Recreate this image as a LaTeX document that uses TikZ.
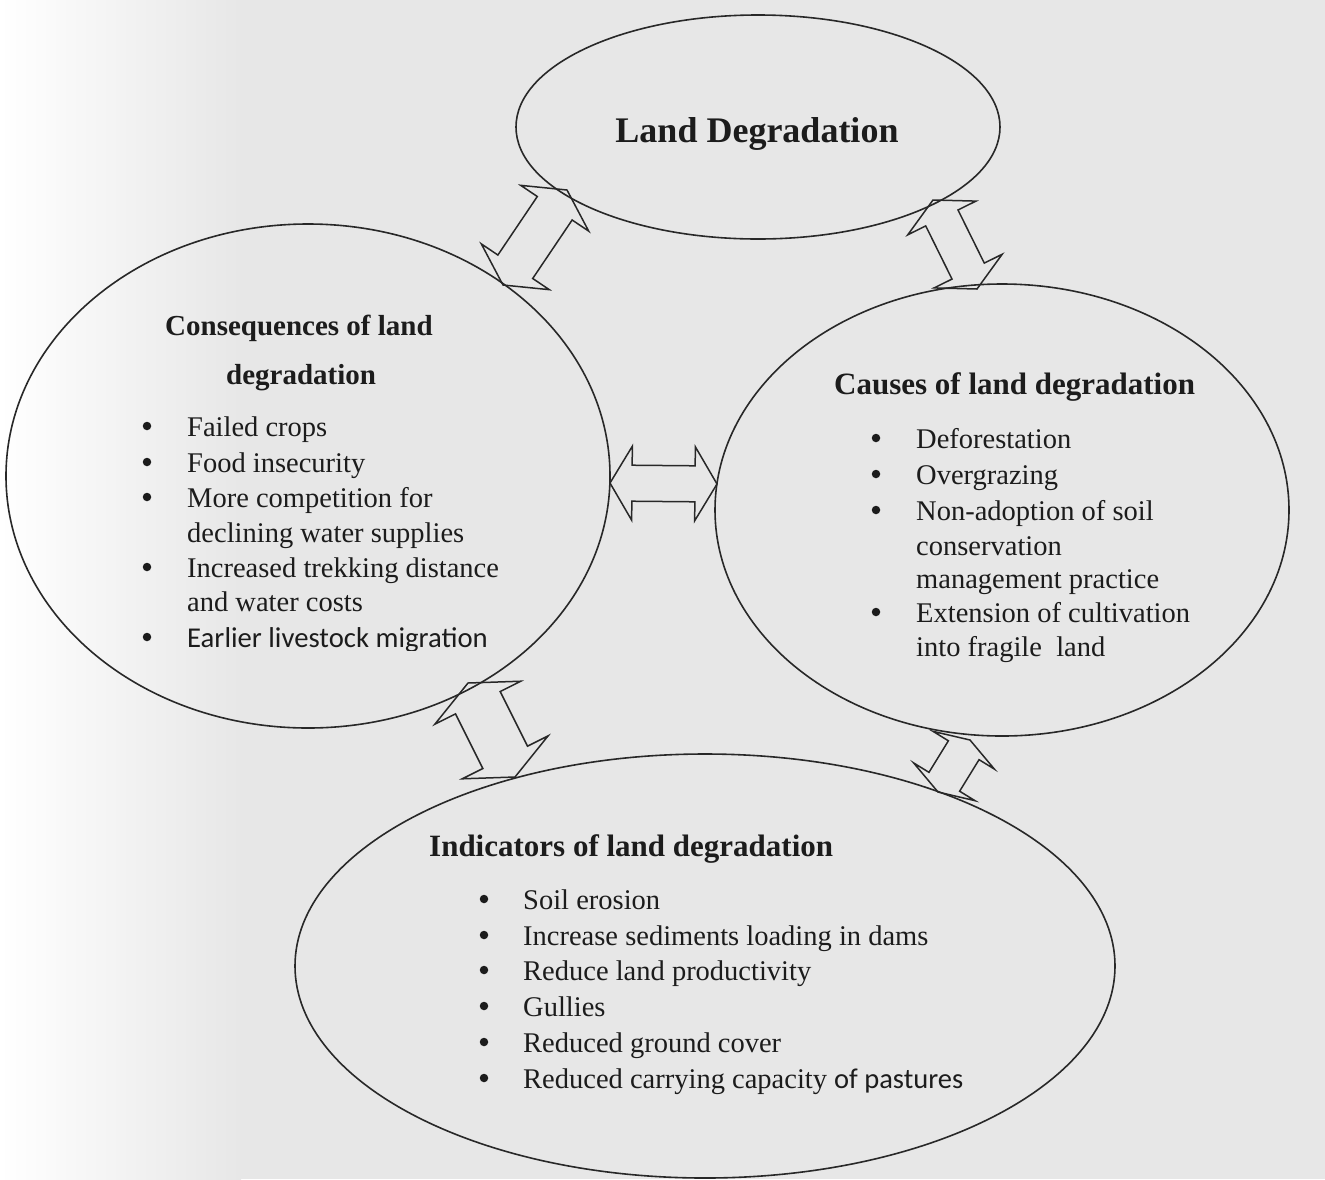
\documentclass[tikz,border=0pt]{standalone}
\usepackage{fontspec}
\setmainfont{Liberation Serif}
\newfontfamily\carlito{Carlito}
\usetikzlibrary{shapes.geometric,calc}
\definecolor{bggray}{RGB}{231,231,231}
\definecolor{ink}{RGB}{28,28,28}
\definecolor{edge}{RGB}{40,40,40}
\tikzset{
  ell/.style={ellipse, draw=edge, line width=1.6pt, inner sep=0pt, outer sep=0pt},
  barrow/.style={draw=edge, line width=1.5pt, line join=miter},
  body/.style={anchor=base west, inner sep=0pt, text=ink, font=\fontsize{28.5}{34}\selectfont},
  bul/.style={circle, fill=ink, inner sep=0pt, minimum size=8.5pt},
  head/.style={anchor=base west, inner sep=0pt, text=ink, font=\fontsize{31}{36}\selectfont\bfseries},
}
\newcommand\blockarrow[5]{%
  \draw[barrow] (#1)
    -- ($(#1)!#3!(#2)!#4!90:(#2)$)
    -- ($(#1)!#3!(#2)!#5!90:(#2)$)
    -- ($(#2)!#3!(#1)!#5!-90:(#1)$)
    -- ($(#2)!#3!(#1)!#4!-90:(#1)$)
    -- (#2)
    -- ($(#2)!#3!(#1)!#4!90:(#1)$)
    -- ($(#2)!#3!(#1)!#5!90:(#1)$)
    -- ($(#1)!#3!(#2)!#5!-90:(#2)$)
    -- ($(#1)!#3!(#2)!#4!-90:(#2)$)
    -- cycle;}
\begin{document}
\begin{tikzpicture}[x=1pt,y=-1pt]
\useasboundingbox (0,0) rectangle (1325,1179);
\fill[bggray] (240,0) rectangle (1325,1179);
\shade[left color=white, right color=bggray] (0,0) rectangle (241,1179);

% ellipses
\node[ell, minimum width=484pt, minimum height=224pt] (top) at (758,127) {};
\node[ell, minimum width=604pt, minimum height=504pt] (cons) at (308,476) {};
\node[ell, minimum width=574pt, minimum height=452pt] (caus) at (1002,510) {};
\node[ell, minimum width=820pt, minimum height=424pt] (ind) at (705,966) {};

% title
\node[anchor=base, inner sep=0pt, text=ink, font=\fontsize{36}{40}\selectfont\bfseries] (title) at (757,142) {Land Degradation};

% consequences
\node[head, font=\fontsize{29}{34}\selectfont\bfseries] (ch1) at (165,335) {Consequences of land};
\node[head, font=\fontsize{29}{34}\selectfont\bfseries] (ch2) at (226,384) {degradation};
\foreach \y/\t [count=\i] in {436/Failed crops, 472/Food insecurity, 507/More competition for, 542/declining water supplies, 577/Increased trekking distance, 611/and water costs}{
  \node[body] (c\i) at (187,\y) {\t};
}
\foreach \y [count=\i] in {436,472,507,577,647}{
  \node[bul] (cb\i) at (147,\y-10) {};
}
\begin{scope}
\clip (150,600) rectangle (520,650);
\node[body, font=\fontsize{28.7}{34}\selectfont\carlito] (c7) at (187,647) {Earlier livestock migration};
\end{scope}

% causes
\node[head] (kh) at (834,394) {Causes of land degradation};
\foreach \y/\t [count=\i] in {448/Deforestation, 484/Overgrazing, 520/Non-adoption of soil, 555/conservation, 588/management practice, 622/Extension of cultivation, 656/into fragile~\ land}{
  \node[body] (k\i) at (916,\y) {\t};
}
\foreach \y [count=\i] in {448,484,520,622}{
  \node[bul] (kb\i) at (876,\y-10) {};
}

% indicators
\node[head] (ih) at (429,856) {Indicators of land degradation};
\foreach \y/\t [count=\i] in {909/Soil erosion, 945/Increase sediments loading in dams, 980/Reduce land productivity, 1016/Gullies, 1052/Reduced ground cover}{
  \node[body] (i\i) at (523,\y) {\t};
}
\node[body] (i6) at (523,1088) {Reduced carrying capacity {\carlito of pastures}};
\foreach \y [count=\i] in {909,945,980,1016,1052,1088}{
  \node[bul] (ib\i) at (484,\y-10) {};
}

% arrow tips
\coordinate (tlA) at (503,285);  \coordinate (tlB) at (567,190);
\coordinate (trA) at (933,200);  \coordinate (trB) at (977,289);
\coordinate (hA) at (610,483);   \coordinate (hB) at (717,484);
\coordinate (blA) at (468,683);  \coordinate (blB) at (515,777);
\coordinate (brA) at (938,792);  \coordinate (brB) at (970,740);

\blockarrow{tlA}{tlB}{22pt}{41pt}{21pt}
\blockarrow{trA}{trB}{20pt}{38pt}{18pt}
\blockarrow{hA}{hB}{22pt}{37pt}{18pt}
\blockarrow{blA}{blB}{22pt}{48pt}{25pt}
\blockarrow{brA}{brB}{12pt}{36pt}{18pt}
\end{tikzpicture}
\end{document}
